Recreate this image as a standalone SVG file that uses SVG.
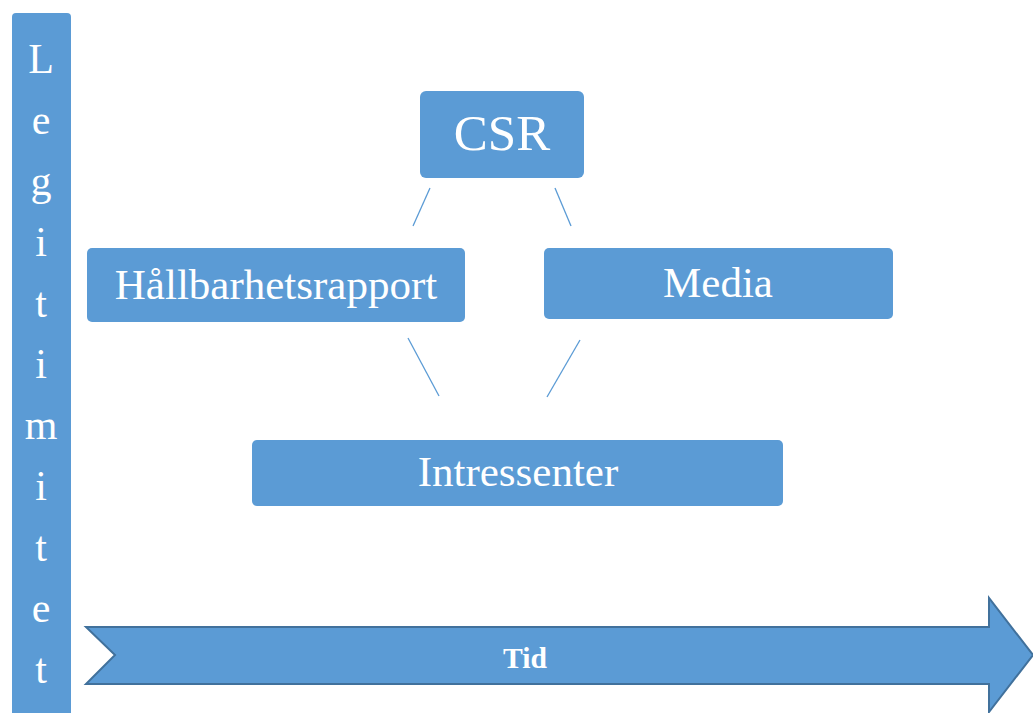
<svg xmlns="http://www.w3.org/2000/svg" width="1033" height="713" viewBox="0 0 1033 713">
<style>
.box{fill:#5B9BD5;}
.t{fill:#FFFFFF;text-anchor:middle;font-family:"Liberation Serif","Times New Roman",serif;}
.conn{stroke:#5B9BD5;stroke-width:1.3;fill:none;}
</style>
<rect width="1033" height="713" fill="#FFFFFF"/>
<g id="legitimitet">
<rect class="box" x="12" y="13" width="59" height="720" rx="4"/>
<g class="t" font-size="42">
<text x="41" y="73">L</text>
<text x="41" y="134">e</text>
<text x="41" y="195">g</text>
<text x="41" y="256">i</text>
<text x="41" y="317">t</text>
<text x="41" y="378">i</text>
<text x="41" y="439">m</text>
<text x="41" y="500">i</text>
<text x="41" y="561">t</text>
<text x="41" y="622">e</text>
<text x="41" y="683">t</text>
</g>
</g>
<g id="tid">
<polygon points="86,627 989,627 989,598 1033,655 989,712 989,684 86,684 115,655" fill="#5B9BD5" stroke="#41719C" stroke-width="2"/>
<text class="t" x="525" y="668" font-size="29" font-weight="bold" textLength="44" lengthAdjust="spacingAndGlyphs">Tid</text>
</g>
<g id="connectors">
<line class="conn" x1="430" y1="188" x2="413" y2="226"/>
<line class="conn" x1="555" y1="188" x2="571" y2="226"/>
<line class="conn" x1="408" y1="338" x2="439" y2="396"/>
<line class="conn" x1="580" y1="340" x2="547" y2="397"/>
</g>
<g id="csr">
<rect class="box" x="420" y="91" width="164" height="87" rx="6"/>
<text class="t" x="502" y="150" font-size="51">CSR</text>
</g>
<g id="hallbarhetsrapport">
<rect class="box" x="87" y="248" width="378" height="74" rx="5"/>
<text class="t" x="276" y="299" font-size="43">Hållbarhetsrapport</text>
</g>
<g id="media">
<rect class="box" x="544" y="248" width="349" height="71" rx="5"/>
<text class="t" x="718" y="297" font-size="43">Media</text>
</g>
<g id="intressenter">
<rect class="box" x="252" y="440" width="531" height="66" rx="5"/>
<text class="t" x="518" y="486" font-size="43">Intressenter</text>
</g>
</svg>
